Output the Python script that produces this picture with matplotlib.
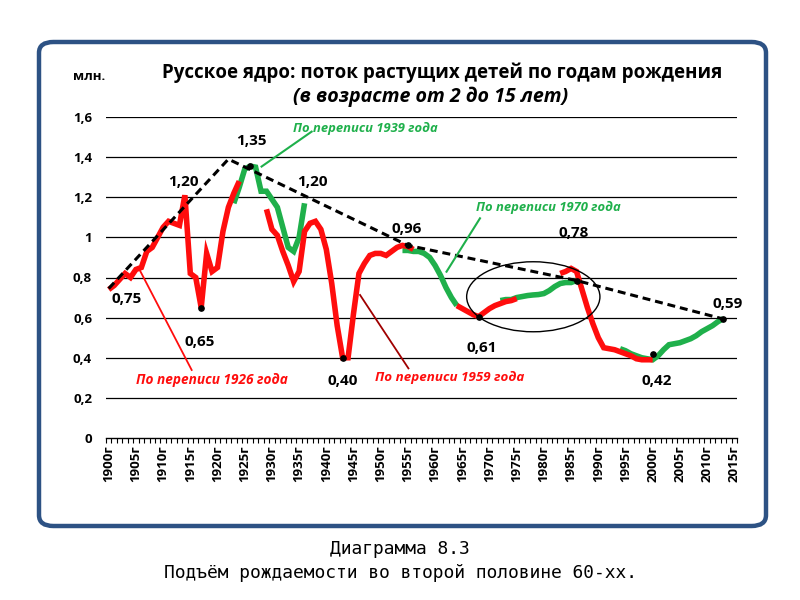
import matplotlib
matplotlib.use("Agg")
import matplotlib.pyplot as plt
from matplotlib.patches import FancyBboxPatch, Ellipse

plt.rcParams['font.family'] = ['Open Sans', 'DejaVu Sans']

# ---------------- data ----------------
RED = '#ff0d0d'
GREEN = '#1fb04b'

# Red: census 1926 (1900-1924)
red_a_start = 1900
red_a = [0.74, 0.76, 0.79, 0.82, 0.80, 0.84, 0.85, 0.93, 0.95, 1.00,
         1.05, 1.08, 1.07, 1.06, 1.21, 0.82, 0.80, 0.65, 0.92, 0.83,
         0.85, 1.03, 1.15, 1.22, 1.28]
# Green: census 1939 (1923-1936)
green_b_start = 1923
green_b = [1.17, 1.25, 1.34, 1.355, 1.35, 1.23, 1.23, 1.19, 1.15, 1.05,
           0.95, 0.93, 1.00, 1.17]
# Red: census 1959 (1929-1956)
red_c_start = 1929
red_c = [1.14, 1.04, 1.01, 0.93, 0.86, 0.78, 0.83, 1.03, 1.07, 1.08,
         1.04, 0.94, 0.77, 0.56, 0.40, 0.40, 0.62, 0.82, 0.87, 0.91,
         0.92, 0.92, 0.91, 0.93, 0.95, 0.96, 0.955, 0.94]
# Green: census 1970 (1954-1964)
green_d_start = 1954
green_d = [0.935, 0.935, 0.93, 0.93, 0.92, 0.90, 0.86, 0.81, 0.75, 0.70,
           0.66]
# Red (1964-1975)
red_e_start = 1964
red_e = [0.66, 0.645, 0.63, 0.615, 0.605, 0.625, 0.645, 0.66, 0.67, 0.68,
         0.685, 0.695]
# Green (1972-1986)
green_f_start = 1972
green_f = [0.685, 0.69, 0.69, 0.70, 0.705, 0.71, 0.713, 0.715, 0.72, 0.735,
           0.755, 0.77, 0.775, 0.775, 0.785]
# Red (1983-2000)
red_g_start = 1983
red_g = [0.82, 0.83, 0.845, 0.83, 0.74, 0.65, 0.57, 0.50, 0.45, 0.445,
         0.44, 0.43, 0.42, 0.41, 0.395, 0.39, 0.39, 0.39]
# Green (1994-2013)
green_h_start = 1994
green_h = [0.445, 0.435, 0.42, 0.41, 0.40, 0.395, 0.39, 0.41, 0.44, 0.465,
           0.47, 0.475, 0.485, 0.495, 0.51, 0.53, 0.545, 0.56, 0.58, 0.595]

# Dashed envelope
env_years = [1900, 1922, 1955, 1986, 2013]
env_vals = [0.745, 1.39, 0.96, 0.785, 0.593]

# Marked points
dot_years = [1917, 1926, 1943, 1955, 1968, 1986, 2000, 2013]
dot_vals = [0.65, 1.355, 0.40, 0.96, 0.605, 0.785, 0.42, 0.593]

# Value labels
lab_text = ['1,20', '0,75', '0,65', '1,35', '1,20', '0,40', '0,96', '0,61',
            '0,78', '0,59', '0,42']
lab_x = [1913.65, 1903.2, 1916.8, 1926.15, 1937.4, 1943.1, 1954.8, 1968.6,
         1985.5, 2013.8, 2000.8]
lab_y = [1.276, 0.693, 0.479, 1.48, 1.276, 0.284, 1.042, 0.449,
         1.022, 0.668, 0.284]

yticks = [0, 0.2, 0.4, 0.6, 0.8, 1.0, 1.2, 1.4, 1.6]
ytick_labels = ['0', '0,2', '0,4', '0,6', '0,8', '1', '1,2', '1,4', '1,6']
xtick_years = list(range(1900, 2016, 5))
xtick_labels = [f'{y}г' for y in xtick_years]

# ---------------- figure ----------------
W, H = 800, 600
fig = plt.figure(figsize=(8, 6), dpi=100)
fig.patch.set_facecolor('white')

def fx(px):
    return px / W

def fy(py):
    return 1 - py / H

# outer rounded frame
frame = FancyBboxPatch((fx(39), fy(526)), fx(766) - fx(39), fy(42) - fy(526),
                       boxstyle="round,pad=0,rounding_size=0.018",
                       transform=fig.transFigure, fill=False,
                       edgecolor='#2d5284', linewidth=3.2, zorder=0)
fig.patches.append(frame)

ax = fig.add_axes([fx(106), fy(438), fx(737) - fx(106), fy(117) - fy(438)])
ax.set_xlim(1899.5, 2015.5)
ax.set_ylim(0, 1.6)
for s in ['top', 'right', 'left']:
    ax.spines[s].set_visible(False)
ax.spines['bottom'].set_color('black')
ax.spines['bottom'].set_linewidth(1.0)

for v in yticks[1:]:
    ax.axhline(v, color='black', lw=0.9, zorder=1)

ax.set_yticks(yticks)
ax.set_yticklabels(ytick_labels, fontsize=9.5, fontweight='bold')
ax.tick_params(axis='y', length=0, pad=10)

ax.set_xticks(xtick_years)
ax.set_xticklabels(xtick_labels, rotation=90, fontsize=9.5, fontweight='bold')
ax.set_xticks([1899.5 + i for i in range(117)], minor=True)
ax.tick_params(axis='x', which='major', length=0, pad=5)
ax.tick_params(axis='x', which='minor', length=3.5, width=0.8, direction='out')

def yrs(start, vals):
    return list(range(start, start + len(vals)))

lw = 4.0
for start, vals in [(green_b_start, green_b), (green_d_start, green_d),
                    (green_f_start, green_f), (green_h_start, green_h)]:
    ax.plot(yrs(start, vals), vals, color=GREEN, lw=lw, zorder=3,
            solid_joinstyle='miter', solid_capstyle='butt')
for start, vals in [(red_a_start, red_a), (red_c_start, red_c),
                    (red_e_start, red_e), (red_g_start, red_g)]:
    ax.plot(yrs(start, vals), vals, color=RED, lw=lw, zorder=4,
            solid_joinstyle='miter', solid_capstyle='butt')

ax.plot(env_years, env_vals, color='black', lw=2.2,
        linestyle=(0, (2.6, 1.6)), zorder=5)
ax.plot(dot_years, dot_vals, 'o', color='black', markersize=3.8, zorder=6)

# ellipse
ell = Ellipse((1978.05, 0.704), 24.5, 0.349, fill=False, edgecolor='black',
              lw=1.0, zorder=6)
ax.add_patch(ell)

for t, x, y in zip(lab_text, lab_x, lab_y):
    ax.text(x, y, t, ha='center', va='center', fontsize=11,
            fontweight='bold', color='black', zorder=7)

# census labels and leaders
ax.text(1947.1, 1.545, 'По переписи 1939 года', color=GREEN, fontsize=9.4,
        fontweight='bold', style='italic', ha='center', va='center')
ax.plot([1937.3, 1928.1], [1.527, 1.353], color=GREEN, lw=1.5, zorder=6)

ax.text(1980.9, 1.147, 'По переписи 1970 года', color=GREEN, fontsize=9.4,
        fontweight='bold', style='italic', ha='center', va='center')
ax.plot([1968.25, 1962.1], [1.095, 0.829], color=GREEN, lw=1.5, zorder=6)

ax.text(1919.0, 0.289, 'По переписи 1926 года', color=RED, fontsize=9.8,
        fontweight='bold', style='italic', ha='center', va='center')
ax.plot([1905.7, 1915.25], [0.837, 0.339], color=RED, lw=1.3, zorder=6)

ax.text(1962.7, 0.304, 'По переписи 1959 года', color=RED, fontsize=9.6,
        fontweight='bold', style='italic', ha='center', va='center')
ax.plot([1946.2, 1955.1], [0.713, 0.347], color='#a00000', lw=1.3, zorder=6)

# titles
fig.text(fx(89), fy(76), 'млн.', ha='center', va='center', fontsize=9.5,
         fontweight='bold')
fig.text(fx(442), fy(73), 'Русское ядро: поток растущих детей по годам рождения',
         ha='center', va='center', fontsize=13.5, fontweight='bold')
fig.text(fx(431), fy(97), '(в возрасте от 2 до 15 лет)', ha='center',
         va='center', fontsize=14.1, fontweight='bold', style='italic')

# caption
fig.text(fx(400), fy(549), 'Диаграмма 8.3', ha='center', va='center',
         fontsize=12.9, family='DejaVu Sans Mono')
fig.text(fx(400), fy(573), 'Подъём рождаемости во второй половине 60-хх.',
         ha='center', va='center', fontsize=12.9, family='DejaVu Sans Mono')

fig.savefig('out.png', dpi=100)
